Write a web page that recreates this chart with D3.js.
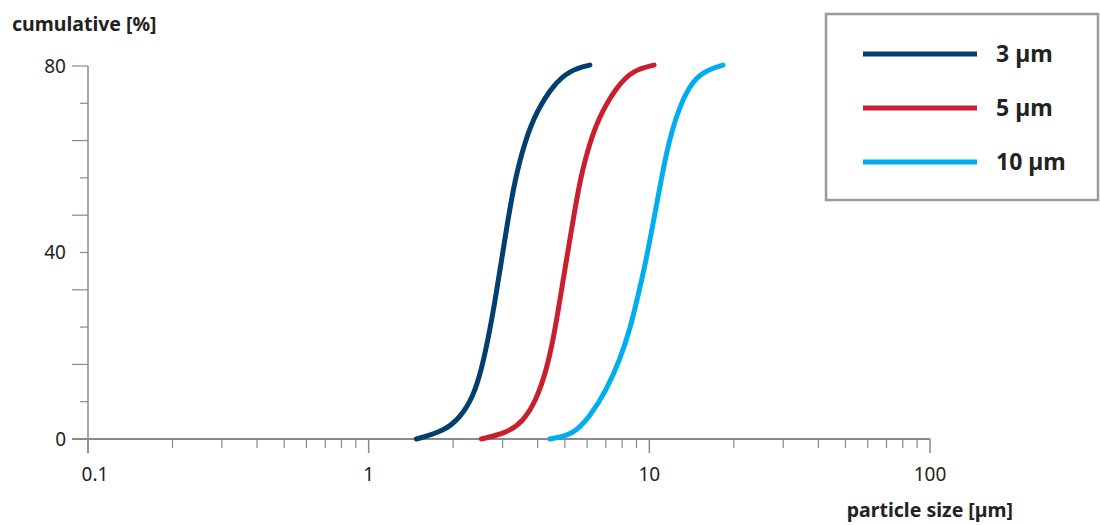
<!DOCTYPE html>
<html>
<head>
<meta charset="utf-8">
<script src="https://cdn.jsdelivr.net/npm/d3@7"></script>
<style>
  body { margin: 0; background: #fff; }
  svg text { font-family: "Noto Sans", "Open Sans", sans-serif; fill: #222; }
</style>
</head>
<body>
<div id="chart"></div>
<script>
// particle sizes [µm] and cumulative values [%]
const size3 = [1.48, 1.84, 2.11, 2.36, 2.52, 2.66, 2.81, 2.95, 3.12, 3.32, 3.60, 3.96, 4.54, 5.21, 6.14];
const cum3  = [0, 1.6, 4.4, 9.1, 14.8, 21.2, 29.0, 37.0, 46.3, 55.6, 63.8, 70.2, 75.9, 79.1, 80.2];

const size5 = [2.52, 3.10, 3.55, 3.96, 4.30, 4.54, 4.78, 5.02, 5.33, 5.66, 6.14, 6.76, 7.74, 8.76, 10.4];
const cum5  = [0, 1.3, 3.7, 8.4, 14.8, 21.2, 29.0, 37.0, 46.3, 55.6, 63.8, 70.2, 75.9, 79.1, 80.2];

const size10 = [4.42, 5.35, 6.14, 7.04, 7.85, 8.52, 9.05, 9.64, 10.32, 11.02, 11.75, 12.84, 14.33, 16.0, 18.3];
const cum10  = [0, 0.9, 4.8, 10.5, 17.0, 23.4, 30.0, 37.0, 46.3, 55.6, 64.0, 71.6, 77.0, 79.1, 80.2];

const seriesNames = ["3 µm", "5 µm", "10 µm"];
const seriesColors = ["#003f6f", "#c8202f", "#00aeef"];

const xTickValues = [0.1, 1, 10, 100];
const xTickLabels = ["0.1", "1", "10", "100"];
const yTickValues = [0, 40, 80];

const series = [
    {name: seriesNames[0], color: seriesColors[0], points: size3.map((s, i) => ({x: s, y: cum3[i]}))},
    {name: seriesNames[1], color: seriesColors[1], points: size5.map((s, i) => ({x: s, y: cum5[i]}))},
    {name: seriesNames[2], color: seriesColors[2], points: size10.map((s, i) => ({x: s, y: cum10[i]}))}
];

const W = 1100, H = 525;
const margin = {top: 66, right: 170, bottom: 86, left: 88};
const width = W - margin.left - margin.right;
const height = H - margin.top - margin.bottom;

const svg = d3.select("#chart").append("svg")
    .attr("width", W)
    .attr("height", H);

const g = svg.append("g")
    .attr("transform", `translate(${margin.left}, ${margin.top})`);

// scales
const x = d3.scaleLog().domain([0.1, 100]).range([0, width]);
const y = d3.scaleLinear().domain([0, 80]).range([height, 0]);

const axisColor = "#8a8a8a";

// y axis: ticks every 8 %, alternating long / short
const yTicks = d3.range(0, 81, 8);
g.append("line")
    .attr("x1", 0).attr("x2", 0)
    .attr("y1", y(80)).attr("y2", height + 14)
    .attr("stroke", axisColor).attr("stroke-width", 1.5);

g.selectAll(".ytick")
    .data(yTicks)
    .join("line")
    .attr("class", "ytick")
    .attr("x1", (d, i) => i % 2 === 0 ? -16 : -8)
    .attr("x2", 0)
    .attr("y1", d => y(d)).attr("y2", d => y(d))
    .attr("stroke", axisColor).attr("stroke-width", 1.2);

g.selectAll(".ylabel")
    .data(yTickValues)
    .join("text")
    .attr("class", "ylabel")
    .attr("x", -22)
    .attr("y", d => y(d))
    .attr("dy", "0.35em")
    .attr("text-anchor", "end")
    .style("font-size", "19px")
    .text(d => d);

// x axis
g.append("line")
    .attr("x1", -16).attr("x2", width)
    .attr("y1", height).attr("y2", height)
    .attr("stroke", axisColor).attr("stroke-width", 2.2);

const minorTicks = [];
[0.1, 1, 10].forEach(dec => {
    for (let k = 2; k <= 9; k++) minorTicks.push(dec * k);
});

g.selectAll(".xminor")
    .data(minorTicks)
    .join("line")
    .attr("class", "xminor")
    .attr("x1", d => x(d)).attr("x2", d => x(d))
    .attr("y1", height).attr("y2", height + 9)
    .attr("stroke", axisColor).attr("stroke-width", 1.2);

g.selectAll(".xmajor")
    .data(xTickValues)
    .join("line")
    .attr("class", "xmajor")
    .attr("x1", d => x(d)).attr("x2", d => x(d))
    .attr("y1", height).attr("y2", height + 14)
    .attr("stroke", axisColor).attr("stroke-width", 1.5);

g.selectAll(".xlabel")
    .data(xTickValues)
    .join("text")
    .attr("class", "xlabel")
    .attr("x", (d, i) => x(d) + (i === 0 ? 7 : 0))
    .attr("y", height + 42)
    .attr("text-anchor", "middle")
    .style("font-size", "19px")
    .text((d, i) => xTickLabels[i]);

// axis titles
svg.append("text")
    .attr("x", 12).attr("y", 31)
    .style("font-size", "19.5px")
    .style("font-weight", "bold")
    .text("cumulative [%]");

svg.append("text")
    .attr("x", 1013).attr("y", 517)
    .attr("text-anchor", "end")
    .style("font-size", "19.5px")
    .style("font-weight", "bold")
    .text("particle size [µm]");

// curves
const line = d3.line()
    .x(d => x(d.x))
    .y(d => y(d.y))
    .curve(d3.curveBasis);

g.selectAll(".curve")
    .data(series)
    .join("path")
    .attr("class", "curve")
    .attr("d", d => line(d.points))
    .attr("fill", "none")
    .attr("stroke", d => d.color)
    .attr("stroke-width", 5)
    .attr("stroke-linecap", "round")
    .attr("stroke-linejoin", "round");

// legend
const legend = svg.append("g");
legend.append("rect")
    .attr("x", 826).attr("y", 14)
    .attr("width", 272).attr("height", 186)
    .attr("fill", "#fff")
    .attr("stroke", "#9a9a9a")
    .attr("stroke-width", 2.5);

const legendItems = legend.selectAll(".item")
    .data(series)
    .join("g")
    .attr("class", "item")
    .attr("transform", (d, i) => `translate(0, ${54 + i * 54})`);

legendItems.append("line")
    .attr("x1", 863).attr("x2", 977)
    .attr("y1", 0).attr("y2", 0)
    .attr("stroke", d => d.color)
    .attr("stroke-width", 5);

legendItems.append("text")
    .attr("x", 996)
    .attr("y", 0)
    .attr("dy", "0.36em")
    .style("font-size", "23px")
    .style("font-weight", "bold")
    .text(d => d.name);
</script>
</body>
</html>
